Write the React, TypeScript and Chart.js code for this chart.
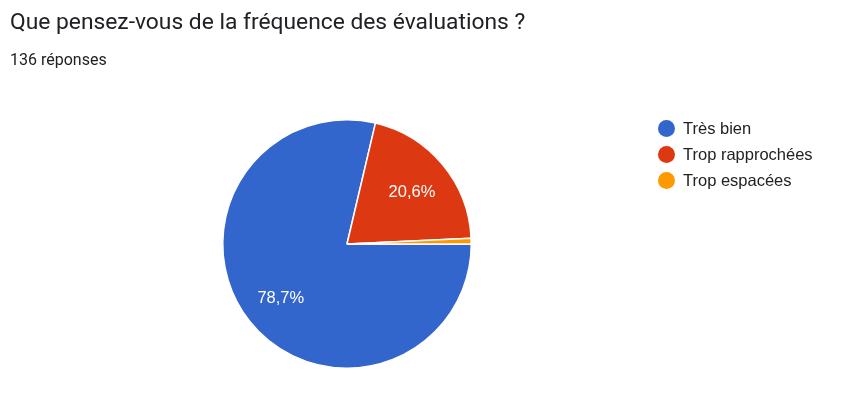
import React, { useEffect, useRef } from "react";
import { Chart, registerables } from "chart.js";

Chart.register(...registerables);

const title = "Que pensez-vous de la fréquence des évaluations ?";
const subtitle = "136 réponses";
const categories = ["Très bien", "Trop rapprochées", "Trop espacées"];
const counts = [107, 28, 1];
const percentLabels = ["78,7%", "20,6%", ""];
const colors = ["#3366cc", "#dc3912", "#ff9900"];

const sliceLabelPlugin = {
  id: "sliceLabels",
  afterDatasetsDraw(chart: any) {
    const ctx = chart.ctx;
    const meta = chart.getDatasetMeta(0);
    ctx.save();
    ctx.fillStyle = "#ffffff";
    ctx.font = '16.5px "Liberation Sans", Arial, sans-serif';
    ctx.textAlign = "center";
    ctx.textBaseline = "middle";
    meta.data.forEach((arc: any, i: number) => {
      const text = percentLabels[i];
      if (!text) return;
      const mid = (arc.startAngle + arc.endAngle) / 2;
      const r = arc.outerRadius * 0.68;
      ctx.fillText(text, arc.x + Math.cos(mid) * r, arc.y + Math.sin(mid) * r + 2);
    });
    ctx.restore();
  },
};

export default function App() {
  const canvasRef = useRef<HTMLCanvasElement | null>(null);

  useEffect(() => {
    document.body.style.margin = "0";
    const chart = new Chart(canvasRef.current as HTMLCanvasElement, {
      type: "pie",
      data: {
        labels: categories,
        datasets: [
          {
            data: counts,
            backgroundColor: colors,
            borderColor: "#ffffff",
            borderWidth: 1.5,
          },
        ],
      },
      options: {
        animation: false,
        responsive: false,
        rotation: 90,
        layout: { padding: { left: 222, right: 369, top: 119, bottom: 26 } },
        plugins: {
          legend: { display: false },
          tooltip: { enabled: false },
        },
      },
      plugins: [sliceLabelPlugin],
    });
    return () => chart.destroy();
  }, []);

  return (
    <div style={{ position: "relative", width: 841, height: 395, background: "#ffffff", overflow: "hidden" }}>
      <canvas ref={canvasRef} width={841} height={395} style={{ position: "absolute", left: 0, top: 0 }} />
      <div
        style={{
          position: "absolute",
          left: 10,
          top: 8,
          fontFamily: "Roboto, 'Open Sans', sans-serif",
          fontSize: 22.8,
          lineHeight: "28px",
          color: "#202124",
          whiteSpace: "nowrap",
        }}
      >
        {title}
      </div>
      <div
        style={{
          position: "absolute",
          left: 10,
          top: 50,
          fontFamily: "Roboto, sans-serif",
          fontSize: 16,
          lineHeight: "20px",
          color: "#202124",
          whiteSpace: "nowrap",
        }}
      >
        {subtitle}
      </div>
      <div style={{ position: "absolute", left: 658, top: 115 }}>
        {categories.map((c, i) => (
          <div key={c} style={{ display: "flex", alignItems: "center", height: 26 }}>
            <span
              style={{
                display: "inline-block",
                width: 17,
                height: 17,
                borderRadius: "50%",
                background: colors[i],
                marginRight: 8,
              }}
            />
            <span style={{ fontFamily: "'Liberation Sans', Arial, sans-serif", fontSize: 16.5, color: "#222222" }}>{c}</span>
          </div>
        ))}
      </div>
    </div>
  );
}
